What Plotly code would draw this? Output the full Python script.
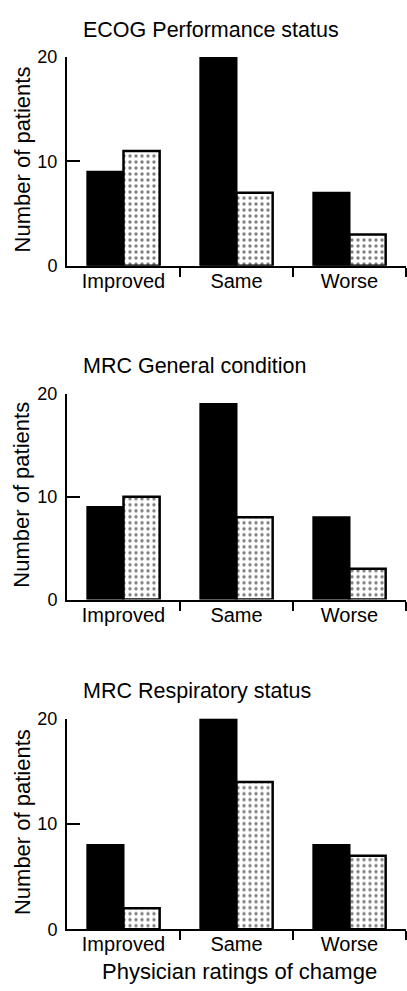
import plotly.graph_objects as go

W, H = 407, 991

categories = ["Improved", "Same", "Worse"]
panel_titles = ["ECOG Performance status", "MRC General condition", "MRC Respiratory status"]
solid_values = [[9, 20, 7], [9, 19, 8], [8, 20, 8]]
dotted_values = [[11, 7, 3], [10, 8, 3], [2, 14, 7]]
y_ticks = [0, 10, 20]
y_title = "Number of patients"
x_title = "Physician ratings of chamge"

FONT = "Liberation Sans, Arial, Helvetica, sans-serif"


def fx(px):
    return px / W


def fy(py):
    return 1 - py / H


# pixel layout of each panel: (top of value 20, zero line, title y)
panels_px = [(48, 261, 20), (391.7, 601.7, 363), (723.3, 938.3, 695)]
x_left, x_right = 67, 406

fig = go.Figure()
layout = dict(
    width=W, height=H, autosize=False,
    margin=dict(l=0, r=0, t=0, b=0),
    paper_bgcolor="white", plot_bgcolor="white",
    showlegend=False, bargap=0.36, bargroupgap=0,
    font=dict(family=FONT, color="black"),
    barmode="group",
)
annotations = []
xpos = list(range(len(categories)))

for i in range(3):
    n = "" if i == 0 else str(i + 1)
    xa, ya = "x" + n, "y" + n
    top, zero, ty = panels_px[i]
    fig.add_trace(go.Bar(
        x=xpos, y=solid_values[i], xaxis=xa, yaxis=ya,
        marker=dict(color="black", line=dict(color="black", width=2)),
        cliponaxis=False,
    ))
    fig.add_trace(go.Bar(
        x=xpos, y=dotted_values[i], xaxis=xa, yaxis=ya,
        marker=dict(color="white", line=dict(color="black", width=2.5),
                    pattern=dict(shape=".", fgcolor="black", bgcolor="white",
                                 size=6, solidity=0.25)),
        cliponaxis=False,
    ))
    layout["xaxis" + n] = dict(
        domain=[fx(x_left), fx(x_right)], anchor=ya, range=[-0.5, 2.5],
        showline=True, linewidth=2, linecolor="black",
        tickvals=[0.5, 1.5, 2.5], ticktext=["", "", ""],
        ticks="outside", ticklen=9, tickwidth=1.5, tickcolor="black",
        showgrid=False, zeroline=False, fixedrange=True,
    )
    ov = str(i + 4)
    layout["xaxis" + ov] = dict(
        overlaying=xa, anchor=ya, range=[-0.5, 2.5], side="bottom",
        showline=False, showgrid=False, zeroline=False,
        tickvals=xpos, ticktext=categories, ticks="",
        tickfont=dict(size=20, family=FONT, color="black"),
        ticklabelstandoff=1,
    )
    fig.add_trace(go.Scatter(x=[None], y=[None], xaxis="x" + ov, yaxis=ya,
                             hoverinfo="skip", showlegend=False))
    layout["yaxis" + n] = dict(
        domain=[fy(zero), fy(top)], anchor=xa, range=[0, 20],
        showline=True, linewidth=2, linecolor="black",
        tickvals=y_ticks, ticks="inside", ticklen=13, tickwidth=2, tickcolor="black",
        tickfont=dict(size=18, family=FONT, color="black"),
        ticklabelstandoff=4,
        showgrid=False, zeroline=False, fixedrange=True,
    )
    annotations.append(dict(
        text=panel_titles[i], x=fx(81), y=fy(ty), xref="paper", yref="paper",
        xanchor="left", yanchor="middle", showarrow=False,
        font=dict(size=21.5, family=FONT, color="black"),
    ))
    annotations.append(dict(
        text=y_title, x=fx(22), y=fy((top + zero) / 2 - 2), xref="paper", yref="paper",
        xanchor="center", yanchor="middle", showarrow=False, textangle=-90,
        font=dict(size=22, family=FONT, color="black"),
    ))

annotations.append(dict(
    text=x_title, x=fx(239), y=fy(981), xref="paper", yref="paper",
    xanchor="center", yanchor="middle", showarrow=False,
    font=dict(size=22, family=FONT, color="black"),
))
layout["annotations"] = annotations
fig.update_layout(**layout)
fig.write_html("out.html")
